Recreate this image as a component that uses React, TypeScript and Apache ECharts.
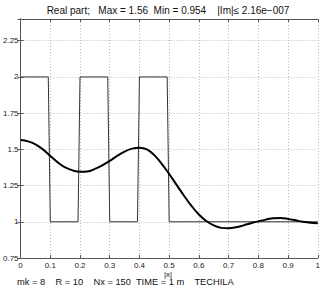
import React, { useEffect, useRef } from "react";
import * as echarts from "echarts";

const titleText = "Real part;   Max = 1.56  Min = 0.954    |Im|\u2264 2.16e\u2212007";
const xLabelText = "|x|";
const footerText = "mk = 8    R = 10    Nx = 150  TIME = 1 m    TECHILA";

const stepX = [0, 0.0933, 0.1, 0.1933, 0.2, 0.2933, 0.3, 0.3933, 0.4, 0.4933, 0.5, 1.0];
const stepY = [2, 2, 1, 1, 2, 2, 1, 1, 2, 2, 1, 1];

const curveX = [0, 0.025, 0.05, 0.075, 0.1, 0.125, 0.15, 0.175, 0.2, 0.225, 0.25, 0.275, 0.3, 0.325, 0.35, 0.375, 0.4, 0.425, 0.45, 0.475, 0.5, 0.525, 0.55, 0.575, 0.6, 0.625, 0.65, 0.675, 0.7, 0.725, 0.75, 0.775, 0.8, 0.825, 0.85, 0.875, 0.9, 0.925, 0.95, 0.975, 1.0];
const curveY = [1.564, 1.555, 1.535, 1.5, 1.455, 1.41, 1.375, 1.355, 1.345, 1.347, 1.365, 1.39, 1.42, 1.455, 1.485, 1.505, 1.512, 1.5, 1.46, 1.4, 1.33, 1.255, 1.18, 1.11, 1.05, 1.005, 0.975, 0.958, 0.955, 0.962, 0.975, 0.99, 1.003, 1.015, 1.025, 1.026, 1.02, 1.01, 1.0, 0.993, 0.99];

const X_MIN = 0, X_MAX = 1, X_STEP = 0.1;
const Y_MIN = 0.75, Y_MAX = 2.4, Y_STEP = 0.25;

export default function App() {
  const ref = useRef<HTMLDivElement>(null);
  useEffect(() => {
    if (!ref.current) return;
    const chart = echarts.init(ref.current, null, { renderer: "svg" });
    const font = "'Liberation Sans', Arial, Helvetica, sans-serif";
    const axisCommon = {
      type: "value" as const,
      axisLine: { show: true, lineStyle: { color: "#555", width: 1 } },
      axisTick: { show: true, inside: true, length: 3, lineStyle: { color: "#555" } },
    };
    chart.setOption({
      animation: false,
      backgroundColor: "#fff",
      grid: { left: 17, right: 4, top: 19, bottom: 31, containLabel: false },
      xAxis: [
        {
          ...axisCommon,
          min: X_MIN, max: X_MAX, interval: X_STEP,
          axisLabel: { color: "#222", fontSize: 8, fontFamily: font, margin: 3 },
          splitLine: { show: true, lineStyle: { color: "#bbb", type: [1, 2], width: 1 } },
        },
        {
          ...axisCommon,
          position: "top",
          min: X_MIN, max: X_MAX, interval: X_STEP,
          axisLabel: { show: false },
          splitLine: { show: false },
        },
      ],
      yAxis: [
        {
          ...axisCommon,
          min: Y_MIN, max: Y_MAX, interval: Y_STEP,
          axisLabel: { color: "#222", fontSize: 8, fontFamily: font, margin: 2, showMaxLabel: false },
          splitLine: { show: true, lineStyle: { color: "#bbb", type: [1, 2], width: 1 } },
        },
        {
          ...axisCommon,
          position: "right",
          min: Y_MIN, max: Y_MAX, interval: Y_STEP,
          axisLabel: { show: false },
          splitLine: { show: false },
        },
      ],
      series: [
        {
          type: "line",
          data: stepX.map((x, i) => [x, stepY[i]]),
          showSymbol: false,
          lineStyle: { color: "#333", width: 1 },
          silent: true,
        },
        {
          type: "line",
          data: curveX.map((x, i) => [x, curveY[i]]),
          smooth: 0.4,
          showSymbol: false,
          lineStyle: { color: "#000", width: 2 },
          silent: true,
        },
      ],
      graphic: [
        {
          type: "text",
          x: 168,
          y: 10,
          style: { text: titleText, fontSize: 10, fontFamily: font, fill: "#111", align: "center", verticalAlign: "middle" },
        },
        {
          type: "text",
          x: 168,
          y: 274,
          style: { text: xLabelText, fontSize: 8, fontFamily: font, fill: "#111", align: "center", verticalAlign: "middle" },
        },
        {
          type: "text",
          x: 17,
          y: 282,
          style: { text: footerText, fontSize: 9.3, fontFamily: font, fill: "#111", align: "left", verticalAlign: "middle" },
        },
      ],
    });
    return () => chart.dispose();
  }, []);
  return <div ref={ref} style={{ width: 323, height: 289, position: "absolute", left: 0, top: 0 }} />;
}
